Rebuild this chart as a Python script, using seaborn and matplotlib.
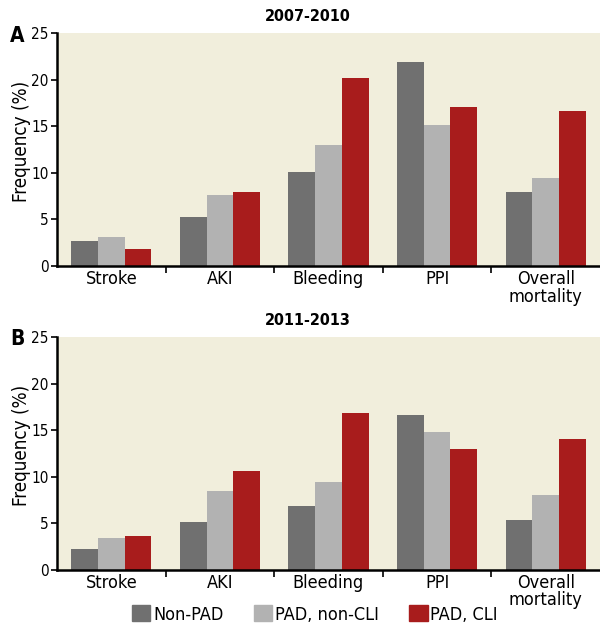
import matplotlib
matplotlib.use("Agg")
import matplotlib.pyplot as plt
import seaborn as sns
import pandas as pd

# data
events = ["Stroke", "AKI", "Bleeding", "PPI", "Overall\nmortality"]
groups = ["Non-PAD", "PAD, non-CLI", "PAD, CLI"]

a_non_pad = [2.7, 5.3, 10.1, 21.9, 7.9]
a_pad_non_cli = [3.1, 7.6, 13.0, 15.1, 9.5]
a_pad_cli = [1.8, 8.0, 20.2, 17.1, 16.6]

b_non_pad = [2.3, 5.1, 6.9, 16.6, 5.4]
b_pad_non_cli = [3.4, 8.5, 9.4, 14.8, 8.0]
b_pad_cli = [3.7, 10.6, 16.9, 13.0, 14.1]

colors = ["#707070", "#b2b2b2", "#a81c1c"]
bg = "#f1eedc"

sns.set_style("white")
plt.rcParams["font.family"] = ["DejaVu Sans"]
plt.rcParams["font.stretch"] = "condensed"
plt.rcParams["text.color"] = "black"
plt.rcParams["axes.labelcolor"] = "black"
plt.rcParams["xtick.color"] = "black"
plt.rcParams["ytick.color"] = "black"


def make_df(s1, s2, s3):
    rows = []
    for g, vals in zip(groups, [s1, s2, s3]):
        for e, v in zip(events, vals):
            rows.append({"event": e, "group": g, "freq": v})
    return pd.DataFrame(rows)


fig = plt.figure(figsize=(6.0, 6.26), dpi=100)
ax_a = fig.add_axes([0.095, 0.575, 0.905, 0.372])
ax_b = fig.add_axes([0.095, 0.0895, 0.905, 0.372])

panels = [
    (ax_a, make_df(a_non_pad, a_pad_non_cli, a_pad_cli), "2007-2010", "A"),
    (ax_b, make_df(b_non_pad, b_pad_non_cli, b_pad_cli), "2011-2013", "B"),
]

for ax, df, title, letter in panels:
    sns.barplot(data=df, x="event", y="freq", hue="group", palette=colors,
                saturation=1, width=0.74, ax=ax, legend=False,
                edgecolor="none", linewidth=0)
    ax.set_facecolor(bg)
    ax.set_xlim(-0.5, 4.5)
    ax.set_ylim(0, 25)
    ax.set_yticks([0, 5, 10, 15, 20, 25])
    ax.set_xlabel("")
    ax.set_ylabel("Frequency (%)", fontsize=13.5)
    ax.yaxis.set_label_coords(-0.047, 0.535)
    for side in ["top", "right"]:
        ax.spines[side].set_visible(False)
    for side in ["left", "bottom"]:
        ax.spines[side].set_linewidth(1.8)
        ax.spines[side].set_color("black")
    ax.tick_params(axis="y", labelsize=11, length=4, width=1.2, left=True, pad=2)
    ax.tick_params(axis="x", labelsize=13, length=0, pad=3)
    ax.set_xticks([0.5, 1.5, 2.5, 3.5], minor=True)
    ax.tick_params(axis="x", which="minor", length=5, width=1.2, bottom=True)
    for lbl in ax.get_xticklabels():
        lbl.set_linespacing(0.95)
    pos = ax.get_position()
    fig.text(0.513, pos.y1 + 0.026, title, fontsize=11.5, fontweight="bold",
             ha="center", va="center")
    ax.text(-0.06, 0.99, letter, transform=ax.transAxes, fontsize=15,
            fontweight="bold", ha="right", va="center")

handles = [plt.Rectangle((0, 0), 1, 1, color=c) for c in colors]
fig.legend(handles, groups, loc="lower center", bbox_to_anchor=(0.525, -0.022),
           ncol=3, frameon=False, fontsize=13, handlelength=1.0,
           handleheight=1.0, handletextpad=0.15, columnspacing=1.7)

fig.savefig("out.png", dpi=100)
